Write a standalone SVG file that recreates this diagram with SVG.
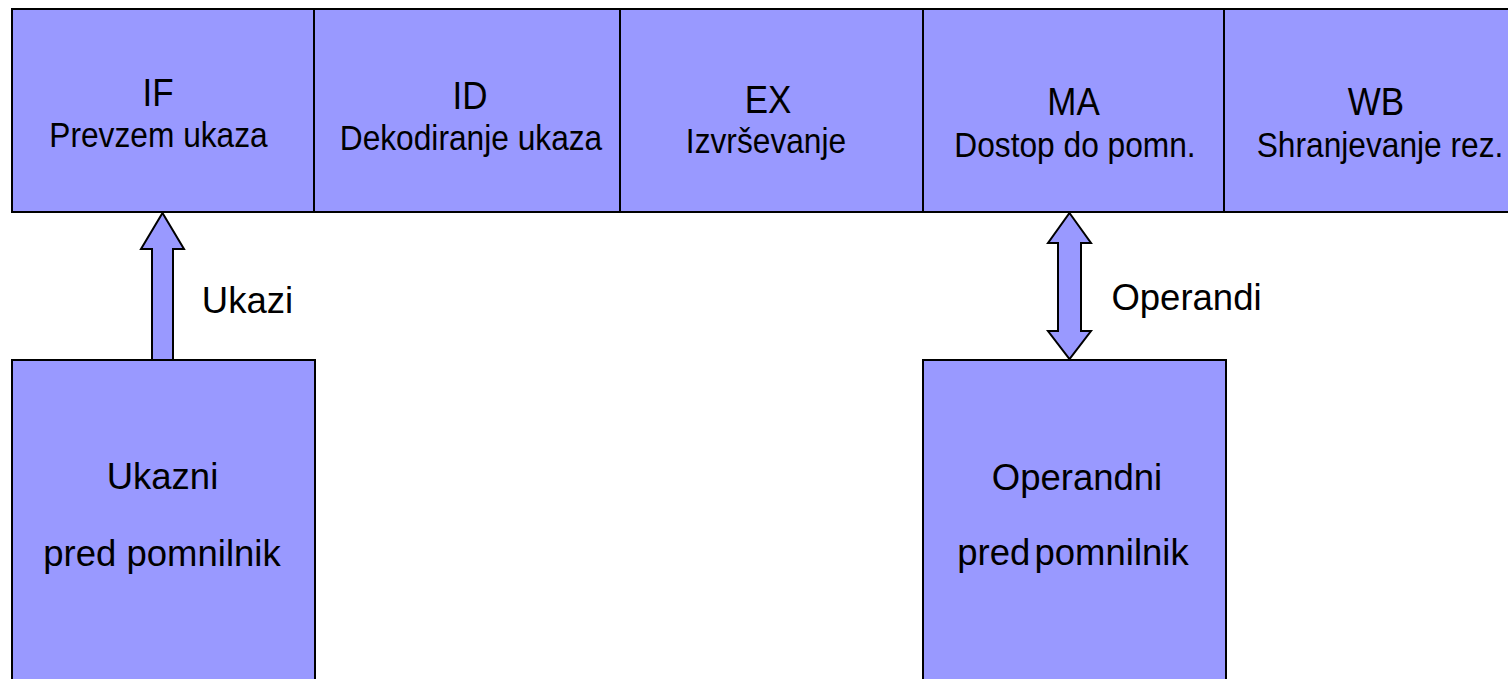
<svg xmlns="http://www.w3.org/2000/svg" width="1508" height="679" viewBox="0 0 1508 679">
  <style>
    .box { fill: #9999FF; stroke: #000; stroke-width: 2; }
    .div { stroke: #000; stroke-width: 2; }
    .arrow { fill: #9999FF; stroke: #000; stroke-width: 2; stroke-linejoin: miter; }
    text { font-family: "Liberation Sans", Arial, sans-serif; fill: #000; text-anchor: middle; }
    .title { font-size: 35px; }
    .sub { font-size: 31.7px; }
    .lbl { font-size: 36.5px; }
  </style>

  <!-- Pipeline stages -->
  <g id="pipeline">
    <rect class="box" x="12" y="9" width="1500" height="203"/>
    <line class="div" x1="314" y1="9" x2="314" y2="212"/>
    <line class="div" x1="620" y1="9" x2="620" y2="212"/>
    <line class="div" x1="923" y1="9" x2="923" y2="212"/>
    <line class="div" x1="1224" y1="9" x2="1224" y2="212"/>
  </g>
  <g id="stage-if">
    <text class="title" transform="translate(158,106) scale(1,1.1)">IF</text>
    <text class="sub" transform="translate(158.5,147) scale(1,1.1)">Prevzem ukaza</text>
  </g>
  <g id="stage-id">
    <text class="title" transform="translate(470,108.5) scale(1,1.1)">ID</text>
    <text class="sub" transform="translate(471,150) scale(1,1.1)">Dekodiranje ukaza</text>
  </g>
  <g id="stage-ex">
    <text class="title" transform="translate(768,112.5) scale(1,1.1)">EX</text>
    <text class="sub" transform="translate(766,153) scale(1,1.1)">Izvrševanje</text>
  </g>
  <g id="stage-ma">
    <text class="title" transform="translate(1073.5,115) scale(1,1.1)">MA</text>
    <text class="sub" transform="translate(1075,156.5) scale(1,1.1)">Dostop do pomn.</text>
  </g>
  <g id="stage-wb">
    <text class="title" transform="translate(1376,115) scale(1,1.1)">WB</text>
    <text class="sub" transform="translate(1380,156.5) scale(1,1.1)">Shranjevanje rez.</text>
  </g>

  <!-- Caches -->
  <g id="icache">
    <rect class="box" x="12" y="360" width="303" height="340"/>
    <text class="lbl" x="162.5" y="489">Ukazni</text>
    <text class="lbl" x="162" y="566">pred pomnilnik</text>
  </g>
  <g id="dcache">
    <rect class="box" x="923" y="360" width="303" height="340"/>
    <text class="lbl" x="1077" y="490">Operandni</text>
    <text class="lbl" x="1073" y="565" word-spacing="-6">pred pomnilnik</text>
  </g>

  <!-- Connectors -->
  <g id="connectors">
    <polygon class="arrow" points="162.5,213 184,249 173,249 173,360 152,360 152,249 141,249"/>
    <polygon class="arrow" points="1069.5,213 1091,243 1081,243 1081,331 1091,331 1069.5,359 1048,331 1058,331 1058,243 1048,243"/>
    <text class="lbl" x="247.5" y="313">Ukazi</text>
    <text class="lbl" x="1186.5" y="310">Operandi</text>
  </g>
</svg>
